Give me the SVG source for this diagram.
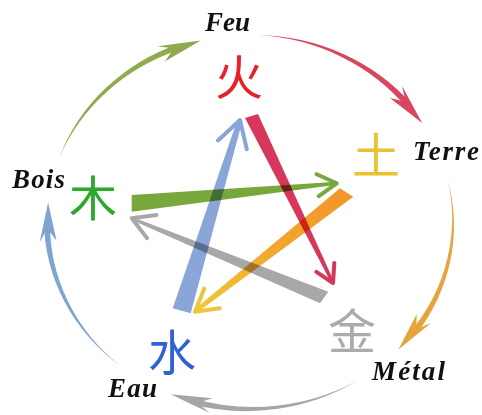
<svg xmlns="http://www.w3.org/2000/svg" width="482" height="415" viewBox="0 0 482 415">
<style>
.lbl{font-family:"Liberation Serif","Times New Roman",serif;font-style:italic;font-weight:bold;font-size:27px;fill:#111}
.cjk{font-family:"Noto Sans CJK SC","Noto Sans CJK JP",sans-serif;font-size:48px;text-anchor:middle;dominant-baseline:central}
.star{mix-blend-mode:multiply}
.chev{fill:none;stroke-width:4;stroke-linecap:round;stroke-linejoin:round}
</style>
<defs>
<linearGradient id="og" gradientUnits="userSpaceOnUse" x1="347" y1="192" x2="195" y2="312">
<stop offset="0" stop-color="#f3952a"/>
<stop offset="0.5" stop-color="#f2a82e"/>
<stop offset="1" stop-color="#f1c83c"/>
</linearGradient>
</defs>
<rect width="482" height="415" fill="#fff"/>
<g id="connectors">
<g id="cycle">
<g fill="#8fab4e">
<path d="M59.24,158.04 A203,187 0 0 1 179.54,43.46 L181.60,49.10 A203,187 0 0 0 59.24,158.04 Z"/>
<path d="M200.89,40.55 L157.28,46.29 L173.95,48.62 L164.74,61.57 Z"/>
</g>
<g fill="#d8475f">
<path d="M257.08,35.11 A203,187 0 0 1 412.33,105.02 L407.61,108.72 A203,187 0 0 0 257.08,35.11 Z"/>
<path d="M422.15,122.91 L402.14,86.20 L405.51,101.80 L389.92,98.00 Z"/>
</g>
<g fill="#e6a33e">
<path d="M447.80,179.93 A203,187 0 0 1 414.52,336.35 L409.72,332.73 A203,187 0 0 0 447.80,179.93 Z"/>
<path d="M398.46,349.53 L431.29,322.69 L416.29,329.26 L416.71,313.93 Z"/>
</g>
<g fill="#a6a6a6">
<path d="M357.57,380.59 A203,187 0 0 1 189.77,403.70 L191.53,397.96 A203,187 0 0 0 357.57,380.59 Z"/>
<path d="M170.68,394.13 L209.84,412.92 L197.46,402.63 L212.70,398.20 Z"/>
</g>
<g fill="#7ea4d0">
<path d="M119.51,365.25 A203,187 0 0 1 44,222 L50,222 A203,187 0 0 0 119.51,365.25 Z"/>
<path d="M48.11,202.45 L39.66,242.44 L47.12,228.53 L56.56,240.66 Z"/>
</g>
</g>
<g id="star">
<g class="star">
<path fill="#8aa6d8" d="M172.7,308.3 L190.7,313.3 L242.4,120.7 L237.6,119.3 Z"/>
<path class="chev" stroke="#8aa6d8" d="M218,140.5 L240,120 L246.8,149.2"/>
</g>
<g class="star">
<path fill="#d6375a" d="M245,118 L258,114 L334.3,282.3 L331.7,283.7 Z"/>
<path class="chev" stroke="#d6375a" d="M316.4,271.9 L333,283 L334.3,263"/>
</g>
<g class="star">
<path fill="#78a83c" d="M131.7,195 L131.7,211.7 L336.8,184.8 L336.6,181.8 Z"/>
<path class="chev" stroke="#78a83c" d="M316.7,174.2 L336.7,183.3 L318.8,196.1"/>
</g>
<g class="star">
<path fill="#a8a8a8" d="M328.3,291.7 L320,303.3 L131.1,219.7 L132.3,216.9 Z"/>
<path class="chev" stroke="#a8a8a8" d="M156.5,215 L131.7,218.3 L147,238.1"/>
</g>
<g class="star">
<path fill="url(#og)" d="M340,188.3 L353.3,196.7 L196.2,313.3 L193.8,310.1 Z"/>
<path class="chev" stroke="#f0c638" d="M204.3,288.5 L195,311.7 L219.8,308.2"/>
</g>
</g>
</g>
<g id="feu">
<text class="lbl" x="205" y="31" textLength="45">Feu</text>
<text class="cjk" x="239" y="74" fill="#e82128">火</text>
</g>
<g id="terre">
<text class="lbl" x="413" y="160" textLength="66">Terre</text>
<text class="cjk" x="376" y="152" fill="#e9c231">土</text>
</g>
<g id="metal">
<text class="lbl" x="372" y="380" textLength="73">Métal</text>
<text class="cjk" x="352" y="328" fill="#ababab">金</text>
</g>
<g id="eau">
<text class="lbl" x="108" y="397" textLength="49">Eau</text>
<text class="cjk" x="172" y="349" font-size="46" fill="#2f62d4">水</text>
</g>
<g id="bois">
<text class="lbl" x="12" y="188" textLength="53">Bois</text>
<text class="cjk" x="93" y="195" fill="#2ca82c">木</text>
</g>
</svg>
